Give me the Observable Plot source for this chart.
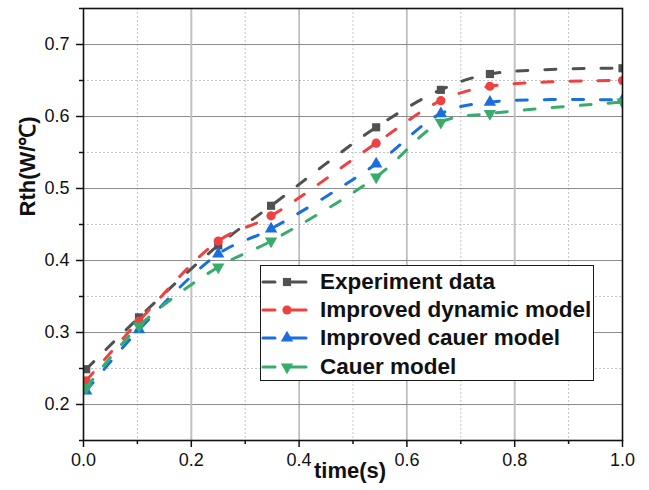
<!DOCTYPE html>
<html><head><meta charset="utf-8">
<script src="https://cdn.jsdelivr.net/npm/d3@7"></script>
<script src="https://cdn.jsdelivr.net/npm/@observablehq/plot@0.6"></script>
<style>
body{margin:0;background:#fff;font-family:"Liberation Sans",Arial,sans-serif;}
#wrap{position:relative;width:649px;height:490px;}
#legend{position:absolute;left:260px;top:265px;width:334px;height:116px;border:1.5px solid #1a1a1a;background:#fff;box-sizing:border-box;}
.row{position:absolute;left:0;height:28px;display:flex;align-items:center;}
.row span{font-weight:bold;font-size:22.5px;color:#111;margin-left:12px;white-space:nowrap;}
</style></head><body><div id="wrap"></div>
<script>
const time = [0.005, 0.103, 0.25, 0.348, 0.543, 0.663, 0.754, 1.0];
const seriesNames = ["Experiment data", "Improved dynamic model", "Improved cauer model", "Cauer model"];
const experiment   = [0.249, 0.321, 0.421, 0.476, 0.585, 0.637, 0.659, 0.667];
const dynamicModel = [0.233, 0.316, 0.427, 0.462, 0.563, 0.622, 0.642, 0.650];
const improvedCauer= [0.219, 0.304, 0.409, 0.444, 0.534, 0.604, 0.620, 0.623];
const cauerModel   = [0.223, 0.309, 0.391, 0.427, 0.516, 0.592, 0.604, 0.620];
const colors = ["#515151", "#F14040", "#1A6FDF", "#37AD6B"];
const symbols = ["square", "circle", "triangle", "triangle"];
const rotations = [0, 0, 0, 180];
const xMajor = [0, 0.2, 0.4, 0.6, 0.8, 1.0];
const xGridLight = [0.2, 0.8];
const xGridDark = [0.4, 0.6];
const xMinor = [0.1, 0.3, 0.5, 0.7, 0.9];
const yMajor = [0.2, 0.3, 0.4, 0.5, 0.6, 0.7];
const yMinor = [0.15, 0.25, 0.35, 0.45, 0.55, 0.65, 0.75];
const xLabel = "time(s)";
const yLabel = "Rth(W/℃)";

const allSeries = [experiment, dynamicModel, improvedCauer, cauerModel];
const data = allSeries.map((vals, s) => time.map((t, i) => ({t, v: vals[i], s})));

const marks = [
  Plot.gridY(yMinor, {stroke: "#c4c4c4", strokeOpacity: 1, strokeDasharray: "2,2"}),
  Plot.gridX(xMinor, {stroke: "#c4c4c4", strokeOpacity: 1, strokeDasharray: "2,2"}),
  Plot.gridY(yMajor, {stroke: "#8c8c8c", strokeOpacity: 1}),
  Plot.gridX(xGridLight, {stroke: "#c2c2c2", strokeOpacity: 1, strokeWidth: 2}),
  Plot.gridX(xGridDark, {stroke: "#8c8c8c", strokeOpacity: 1}),
];
data.forEach((d, s) => {
  marks.push(Plot.line(d, {x: "t", y: "v", stroke: colors[s], strokeWidth: 3, strokeDasharray: "11,17", strokeLinecap: "round", curve: "catmull-rom", clip: true}));
  marks.push(Plot.dot(d, {x: "t", y: "v", fill: colors[s], stroke: "none", symbol: symbols[s], rotate: rotations[s], r: 4.6, clip: true}));
});
marks.push(
  Plot.frame({stroke: "#111", strokeWidth: 1.6}),
  Plot.axisX(xMajor, {tickSize: 7, tickPadding: 6, tickFormat: d3.format(".1f"), fontSize: 18, stroke: "#111", strokeWidth: 1.5, label: null}),
  Plot.axisX(xMinor, {tickSize: 4, tickFormat: () => "", stroke: "#111", strokeWidth: 1.5, label: null}),
  Plot.axisY(yMajor, {tickSize: 7, tickPadding: 7, tickFormat: d3.format(".1f"), fontSize: 18, stroke: "#111", strokeWidth: 1.5, label: null}),
  Plot.axisY(yMinor, {tickSize: 4, tickFormat: () => "", stroke: "#111", strokeWidth: 1.5, label: null}),
  Plot.text([xLabel], {frameAnchor: "bottom", dx: -3, dy: 37, fontSize: 22, fontWeight: "bold", fill: "#111"}),
  Plot.text([yLabel], {frameAnchor: "left", dx: -56, dy: -8, rotate: -90, fontSize: 22, fontWeight: "bold", fill: "#111"})
);

const chart = Plot.plot({
  width: 649, height: 490,
  marginLeft: 83, marginRight: 27, marginTop: 8, marginBottom: 50,
  style: {fontFamily: "'Liberation Sans', Arial, sans-serif", background: "#fff", color: "#111"},
  x: {domain: [0, 1.0], axis: null},
  y: {domain: [0.15, 0.75], axis: null},
  marks
});
const wrap = document.getElementById("wrap");
wrap.appendChild(chart);

// legend overlay
const legend = document.createElement("div");
legend.id = "legend";
wrap.appendChild(legend);
const rowTops = [1.5, 29.5, 58, 86.5];
seriesNames.forEach((name, s) => {
  const row = document.createElement("div");
  row.className = "row";
  row.style.top = rowTops[s] + "px";
  const svg = d3.create("svg").attr("width", 47).attr("height", 28);
  svg.append("line").attr("x1", 2).attr("x2", 14).attr("y1", 14).attr("y2", 14)
    .attr("stroke", colors[s]).attr("stroke-width", 3).attr("stroke-linecap", "round");
  svg.append("line").attr("x1", 27).attr("x2", 45).attr("y1", 14).attr("y2", 14)
    .attr("stroke", colors[s]).attr("stroke-width", 3).attr("stroke-linecap", "round");
  const symType = {square: d3.symbolSquare, circle: d3.symbolCircle, triangle: d3.symbolTriangle}[symbols[s]];
  svg.append("path").attr("d", d3.symbol(symType, Math.PI * 4.6 * 4.6)())
    .attr("transform", `translate(26,14) rotate(${rotations[s]})`).attr("fill", colors[s]);
  row.appendChild(svg.node());
  const span = document.createElement("span");
  span.textContent = name;
  row.appendChild(span);
  legend.appendChild(row);
});
</script></body></html>
